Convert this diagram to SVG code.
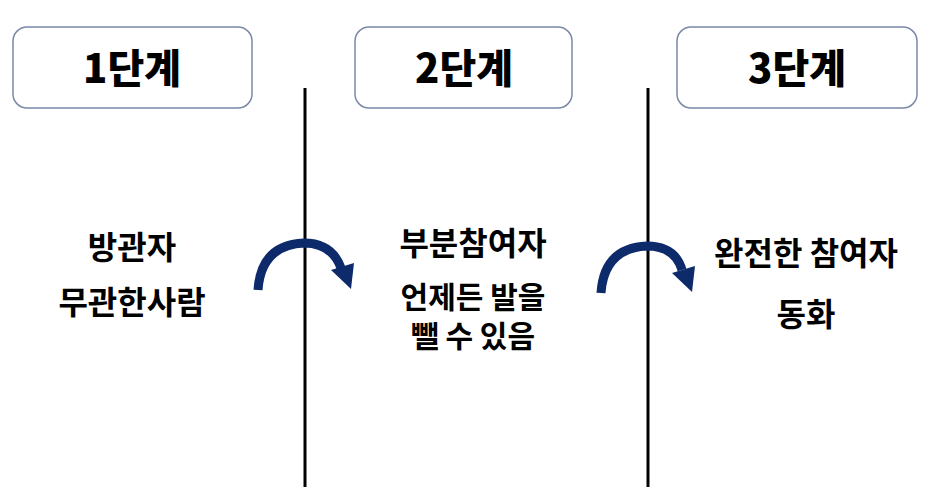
<svg xmlns="http://www.w3.org/2000/svg" width="936" height="496" viewBox="0 0 936 496">
<style>
.box{fill:#fff;stroke:#7a89a8;stroke-width:1.5}
.h{font-family:"Noto Sans CJK KR","Liberation Sans",sans-serif;font-weight:900;font-size:40px;fill:#000;text-anchor:middle}
.t{font-family:"Noto Sans CJK KR","Liberation Sans",sans-serif;font-weight:700;font-size:32px;fill:#000;text-anchor:middle}
.s{font-size:30px}
.div{stroke:#000;stroke-width:3}
.arc{fill:none;stroke:#0d2a6b;stroke-width:9}
.head{fill:#0d2a6b}
</style>
<rect width="936" height="496" fill="#fff"/>
<g id="stage1">
<rect class="box" x="13" y="27" width="239" height="81" rx="14"/>
<text class="h" x="132" y="83">1단계</text>
<text class="t" x="132" y="259">방관자</text>
<text class="t" x="132" y="314">무관한사람</text>
</g>
<g id="stage2">
<rect class="box" x="355" y="27" width="217" height="81" rx="14"/>
<text class="h" x="464" y="83">2단계</text>
<text class="t" x="473" y="255">부분참여자</text>
<text class="t s" x="473" y="308">언제든 발을</text>
<text class="t s" x="473" y="347">뺄 수 있음</text>
</g>
<g id="stage3">
<rect class="box" x="677" y="27" width="240" height="81" rx="14"/>
<text class="h" x="797" y="83">3단계</text>
<text class="t" x="806" y="265">완전한 참여자</text>
<text class="t" x="806" y="326">동화</text>
</g>
<g id="connectors">
<line class="div" x1="305" y1="88" x2="305" y2="487"/>
<line class="div" x1="648" y1="88" x2="648" y2="487"/>
<path class="arc" d="M258 290 Q261 245 304 243 Q332 243 341 268"/>
<polygon class="head" points="331,270 354,263 351,289"/>
<path class="arc" d="M601 293 Q604 248 647 246 Q675 246 682 270"/>
<polygon class="head" points="672,273 695,266 692,292"/>
</g>
</svg>
